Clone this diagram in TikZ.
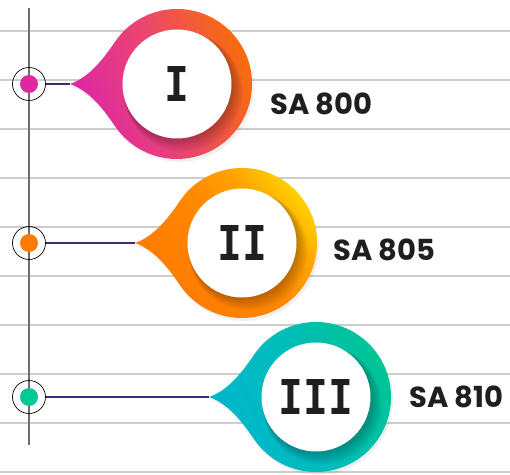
\documentclass[tikz,border=0pt]{standalone}
\usepackage{fontspec}
\setmainfont{Poppins}
\newfontfamily\numfont{DejaVu Sans Mono}
\usetikzlibrary{calc}
\definecolor{conncol}{RGB}{60,45,110}
\definecolor{rulecol}{RGB}{205,205,205}
\definecolor{axiscol}{RGB}{110,110,110}
\definecolor{dotA}{RGB}{222,40,158}
\definecolor{dotB}{RGB}{255,122,0}
\definecolor{dotC}{RGB}{0,200,150}
\pgfdeclareverticalshading{shA}{100bp}{rgb(0bp)=(0.867,0.15,0.65); rgb(25bp)=(0.867,0.15,0.65); rgb(50bp)=(0.925,0.28,0.42); rgb(75bp)=(0.98,0.44,0.0); rgb(100bp)=(0.98,0.44,0.0)}
\pgfdeclareverticalshading{shB}{100bp}{rgb(0bp)=(1,0.47,0); rgb(25bp)=(1,0.47,0); rgb(50bp)=(1,0.54,0); rgb(62bp)=(1,0.64,0); rgb(75bp)=(1,0.86,0); rgb(100bp)=(1,0.86,0)}
\pgfdeclareverticalshading{shC}{100bp}{rgb(0bp)=(0,0.71,0.8); rgb(25bp)=(0,0.71,0.8); rgb(50bp)=(0,0.74,0.73); rgb(75bp)=(0,0.77,0.57); rgb(100bp)=(0,0.77,0.57)}
\newcommand{\droppath}{(-107,0) .. controls (-87,7) and (-73,26) .. (-61.44,43.02) arc[start angle=145, end angle=-145, radius=75] .. controls (-73,-26) and (-87,-7) .. (-107,0) -- cycle}
\newcommand{\numtext}[1]{\scalebox{0.86}[1]{#1}}
\tikzset{
  rule/.style={draw=rulecol, line width=1.3pt},
  axisline/.style={draw=axiscol, line width=1.1pt},
  ring/.style={circle, draw=black, line width=0.7pt, minimum size=33pt, inner sep=0pt},
  conn/.style={draw=conncol, line width=2pt},
  whitedisk/.style={circle, fill=white, minimum size=109pt, inner sep=0pt, font=\numfont\bfseries\fontsize{48}{48}\selectfont, text=black!88},
  lab/.style={anchor=west, inner sep=0pt, font=\bfseries\fontsize{29}{29}\selectfont, text=black!88},
  dropA/.style={shading=shA, shading angle=-70},
  dropB/.style={shading=shB, shading angle=-50},
  dropC/.style={shading=shC, shading angle=-65},
}
\begin{document}
\begin{tikzpicture}[x=1pt,y=1pt]
\useasboundingbox (0,0) rectangle (510,474);
\fill[white] (0,0) rectangle (510,474);
\foreach \yy in {2,51,100,149,198,247,296,345,394,443}
  \draw[rule] (0,\yy) -- (510,\yy);
\draw[axisline] (29,466) -- (29,29);

% item I
\begin{scope}[shift={(177,390)}]
  \fill[black,opacity=0.06] [shift={(2,-3)}] \droppath;
  \shade[dropA] \droppath;
  \foreach \k in {1,...,9}
    \fill[black,opacity=0.03] (0.7*\k,-0.9*\k) circle ({54+0.6*\k});
  \node[whitedisk] (c1) at (0,0) {\numtext{I}};
  \coordinate (t1) at (-107,0);
\end{scope}
% item II
\begin{scope}[shift={(242,231)}]
  \fill[black,opacity=0.06] [shift={(2,-3)}] \droppath;
  \shade[dropB] \droppath;
  \foreach \k in {1,...,9}
    \fill[black,opacity=0.03] (0.7*\k,-0.9*\k) circle ({54+0.6*\k});
  \node[whitedisk] (c2) at (0,0) {\numtext{II}};
  \coordinate (t2) at (-107,0);
\end{scope}
% item III
\begin{scope}[shift={(316,77)}]
  \fill[black,opacity=0.06] [shift={(2,-3)}] \droppath;
  \shade[dropC] \droppath;
  \foreach \k in {1,...,9}
    \fill[black,opacity=0.03] (0.7*\k,-0.9*\k) circle ({54+0.6*\k});
  \node[whitedisk] (c3) at (0,0) {\numtext{III}};
  \coordinate (t3) at (-107,0);
\end{scope}

% markers
\node[ring] (m1) at (29,390) {};
\node[ring] (m2) at (29,231) {};
\node[ring] (m3) at (29,77) {};
\fill[dotA] (m1.center) circle (9);
\fill[dotB] (m2.center) circle (9);
\fill[dotC] (m3.center) circle (9);
\draw[conn] (m1.east) -- (t1);
\draw[conn] (m2.east) -- (t2);
\draw[conn] (m3.east) -- (t3);

% labels
\node[lab] (l1) at (270,370) {SA 800};
\node[lab] (l2) at (333,224) {SA 805};
\node[lab] (l3) at (409,77) {SA 810};
\end{tikzpicture}
\end{document}
